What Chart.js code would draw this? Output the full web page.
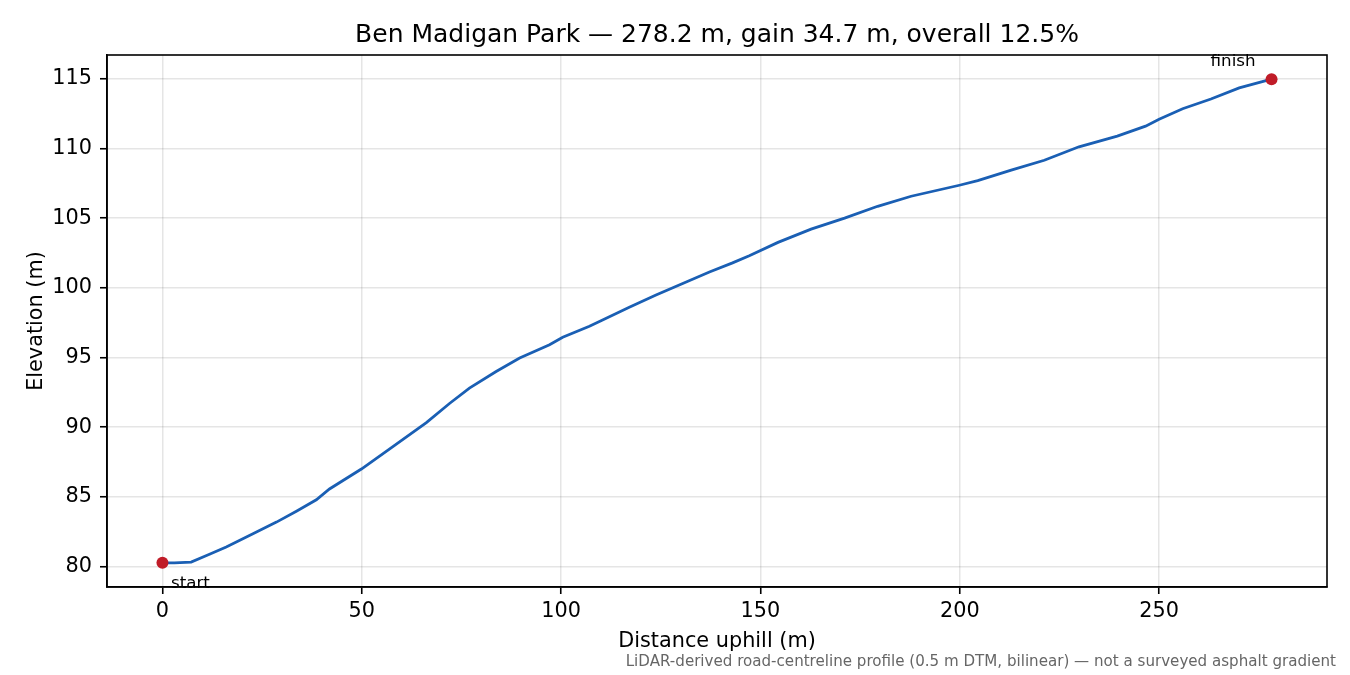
<!DOCTYPE html>
<html>
<head>
<meta charset="utf-8">
<script src="https://cdn.jsdelivr.net/npm/chart.js@4.4.1/dist/chart.umd.min.js"></script>
<style>
  html, body { margin: 0; padding: 0; background: #fff; }
</style>
</head>
<body>
<canvas id="perfil" width="1350" height="675"></canvas>
<script>
// profile (distance uphill in m, elevation in m)
var distancias = [0, 3, 7.2, 11.8, 16, 22.7, 28.6, 33.6, 38.6, 41.9, 49.9, 57.8, 66.2, 72, 77, 83.7,
  89.6, 97.1, 100.4, 107.1, 110.4, 117.1, 123.8, 130.5, 137.2, 143, 147.2, 154.4, 162.7, 171.1,
  179.4, 187.8, 199.9, 204.5, 212.9, 221.2, 229.9, 239.5, 246.6, 250, 255.9, 263, 270.1, 278.2]
var elevacoes = [80.27, 80.26, 80.32, 80.88, 81.4, 82.36, 83.19, 83.97, 84.79, 85.57, 87.0, 88.6,
  90.33, 91.7, 92.8, 94.0, 94.96, 95.91, 96.46, 97.24, 97.69, 98.6, 99.48, 100.31, 101.14, 101.79,
  102.3, 103.26, 104.21, 105.0, 105.85, 106.57, 107.36, 107.69, 108.45, 109.15, 110.12, 110.88,
  111.6, 112.1, 112.85, 113.55, 114.35, 114.97]
var ticks_x = [0, 50, 100, 150, 200, 250]
var ticks_y = [80, 85, 90, 95, 100, 105, 110, 115]
var rotulos_pontos = ['start', 'finish']

var fonte = 'DejaVu Sans'
var ultimo = distancias.length - 1

// same 5% margins as the original axes
var faixa_x = distancias[ultimo] - distancias[0]
var faixa_y = elevacoes[ultimo] - elevacoes[0]

var pontos_perfil = distancias.map(function (d, i) { return { x: d, y: elevacoes[i] } })
var pontos_extremos = [
  { x: distancias[0], y: elevacoes[0] },
  { x: distancias[ultimo], y: elevacoes[ultimo] }
]

var textos = {
  id: 'textos',
  afterDraw: function (chart) {
    var ctx = chart.ctx
    var area = chart.chartArea
    var sx = chart.scales.x
    var sy = chart.scales.y
    ctx.save()
    // frame on all four sides
    ctx.strokeStyle = '#000'
    ctx.lineWidth = 1.6
    ctx.strokeRect(area.left, area.top, area.right - area.left, area.bottom - area.top)

    ctx.fillStyle = '#000'
    ctx.textBaseline = 'alphabetic'
    ctx.textAlign = 'center'
    ctx.font = '25px "' + fonte + '"'
    ctx.fillText('Ben Madigan Park \u2014 278.2 m, gain 34.7 m, overall 12.5%', (area.left + area.right) / 2, 42)

    ctx.font = '16.7px "' + fonte + '"'
    ctx.textAlign = 'left'
    ctx.fillText(rotulos_pontos[0], sx.getPixelForValue(pontos_extremos[0].x) + 8.5, sy.getPixelForValue(pontos_extremos[0].y) + 25)
    ctx.textAlign = 'right'
    ctx.fillText(rotulos_pontos[1], sx.getPixelForValue(pontos_extremos[1].x) - 16, sy.getPixelForValue(pontos_extremos[1].y) - 13)

    ctx.font = '15.1px "' + fonte + '"'
    ctx.fillStyle = '#666'
    ctx.fillText('LiDAR-derived road-centreline profile (0.5 m DTM, bilinear) \u2014 not a surveyed asphalt gradient', 1336, 666)
    ctx.restore()
  }
}

var ctx = document.getElementById('perfil').getContext('2d')
var grafico = new Chart(ctx, {
  type: 'line',
  data: {
    datasets: [
      {
        label: 'ends',
        data: pontos_extremos,
        showLine: false,
        pointRadius: 6,
        pointBackgroundColor: '#c01c28',
        pointBorderWidth: 0,
        order: 0
      },
      {
        label: 'profile',
        data: pontos_perfil,
        borderColor: '#1a5fb4',
        borderWidth: 2.8,
        pointRadius: 0,
        tension: 0,
        fill: false,
        order: 1
      }
    ]
  },
  options: {
    responsive: false,
    devicePixelRatio: 1,
    animation: false,
    layout: { padding: { top: 55, right: 23, left: 0, bottom: 0 } },
    plugins: {
      legend: { display: false },
      tooltip: { enabled: false },
      title: { display: false }
    },
    scales: {
      x: {
        type: 'linear',
        min: distancias[0] - faixa_x * 0.05,
        max: distancias[ultimo] + faixa_x * 0.05,
        afterBuildTicks: function (scale) { scale.ticks = ticks_x.map(function (v) { return { value: v } }) },
        afterFit: function (scale) { scale.height = 88 },
        grid: { color: 'rgba(0,0,0,0.1)', lineWidth: 1.5, tickColor: '#000', tickLength: 7, tickWidth: 1.6 },
        border: { display: true, color: '#000', width: 1.6 },
        ticks: { color: '#000', font: { family: fonte, size: 20.8 }, padding: 5, maxRotation: 0, autoSkip: false },
        title: { display: true, text: 'Distance uphill (m)', color: '#000', font: { family: fonte, size: 20.8 }, padding: { top: 0, bottom: 21 } }
      },
      y: {
        min: elevacoes[0] - faixa_y * 0.05,
        max: elevacoes[ultimo] + faixa_y * 0.05,
        afterBuildTicks: function (scale) { scale.ticks = ticks_y.map(function (v) { return { value: v } }) },
        afterFit: function (scale) { scale.width = 107 },
        grid: { color: 'rgba(0,0,0,0.1)', lineWidth: 1.5, tickColor: '#000', tickLength: 7, tickWidth: 1.6 },
        border: { display: true, color: '#000', width: 1.6 },
        ticks: { color: '#000', font: { family: fonte, size: 20.8 }, padding: 8, autoSkip: false },
        title: { display: true, text: 'Elevation (m)', color: '#000', font: { family: fonte, size: 20.8 }, padding: { top: 24, bottom: 0 } }
      }
    }
  },
  plugins: [textos]
})
</script>
</body>
</html>
